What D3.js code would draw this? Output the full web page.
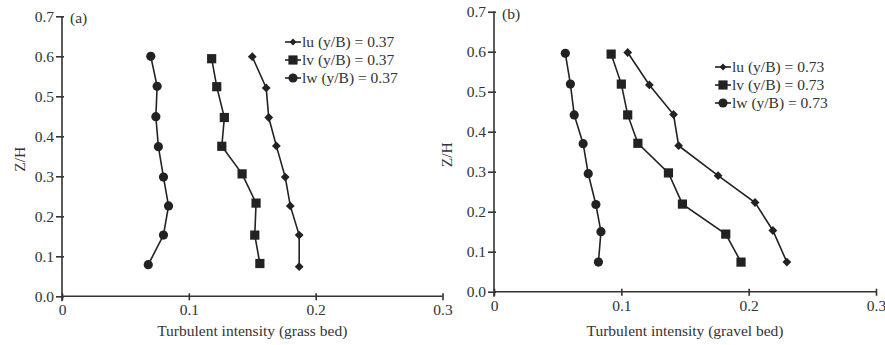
<!DOCTYPE html>
<html>
<head>
<meta charset="utf-8">
<script src="https://cdn.jsdelivr.net/npm/d3@7"></script>
<style>
  body { margin: 0; background: #fff; }
  svg text { font-family: "Liberation Serif", "Times New Roman", serif; fill: #333; }
</style>
</head>
<body>
<svg id="chart" width="885" height="345"></svg>
<script>
// Z/H levels and turbulent intensities
var zA_u = [0.599, 0.521, 0.447, 0.376, 0.298, 0.226, 0.153, 0.074];
var iA_u = [0.150, 0.161, 0.163, 0.169, 0.176, 0.180, 0.187, 0.187];
var zA_v = [0.594, 0.524, 0.447, 0.375, 0.306, 0.233, 0.153, 0.082];
var iA_v = [0.118, 0.122, 0.128, 0.126, 0.142, 0.153, 0.152, 0.156];
var zA_w = [0.600, 0.525, 0.449, 0.374, 0.298, 0.226, 0.153, 0.079];
var iA_w = [0.070, 0.075, 0.074, 0.076, 0.080, 0.084, 0.080, 0.068];

var zB_u = [0.598, 0.517, 0.443, 0.365, 0.290, 0.223, 0.153, 0.074];
var iB_u = [0.105, 0.122, 0.141, 0.145, 0.176, 0.205, 0.219, 0.230];
var zB_v = [0.594, 0.519, 0.442, 0.371, 0.297, 0.219, 0.144, 0.074];
var iB_v = [0.092, 0.100, 0.105, 0.113, 0.137, 0.148, 0.182, 0.194];
var zB_w = [0.596, 0.519, 0.442, 0.370, 0.295, 0.218, 0.150, 0.074];
var iB_w = [0.056, 0.060, 0.063, 0.070, 0.074, 0.080, 0.084, 0.082];

var xTicks = [0, 0.1, 0.2, 0.3];
var yTicks = [0, 0.1, 0.2, 0.3, 0.4, 0.5, 0.6, 0.7];
var legendA = ["lu (y/B) = 0.37", "lv (y/B) = 0.37", "lw (y/B) = 0.37"];
var legendB = ["lu (y/B) = 0.73", "lv (y/B) = 0.73", "lw (y/B) = 0.73"];
var shapes = ["diamond", "square", "circle"];

var svg = d3.select("#chart");
var ink = "#222";

function zip(xs, zs) {
  return xs.map(function(v, i) { return { x: v, z: zs[i] }; });
}

function marker(g, shape, cx, cy, s) {
  s = s || 1;
  if (shape == "circle") {
    g.append("circle").attr("cx", cx).attr("cy", cy).attr("r", 4.6 * s).attr("fill", ink);
  } else if (shape == "square") {
    var h = 4.6 * s;
    g.append("rect").attr("x", cx - h).attr("y", cy - h).attr("width", 2 * h).attr("height", 2 * h).attr("fill", ink);
  } else {
    var r = 4.4 * s;
    g.append("path")
      .attr("d", "M" + cx + "," + (cy - r) + "L" + (cx + r) + "," + cy + "L" + cx + "," + (cy + r) + "L" + (cx - r) + "," + cy + "Z")
      .attr("fill", ink);
  }
}

function panel(opt) {
  var x = d3.scaleLinear().domain([0, 0.3]).range([opt.left, opt.right]);
  var y = d3.scaleLinear().domain([0, 0.7]).range([opt.bottom, opt.top]);
  var g = svg.append("g");

  // x axis
  var xa = g.append("g")
    .attr("transform", "translate(0," + opt.bottom + ")")
    .call(d3.axisBottom(x).tickValues(xTicks).tickSize(4).tickPadding(4)
      .tickFormat(function(d) { return d == 0 ? "0" : d3.format(".1f")(d); }));
  xa.selectAll("line").attr("y1", -3).attr("y2", 4);
  xa.select(".domain").attr("d", "M" + opt.left + ",0H" + opt.right);

  // y axis
  var ya = g.append("g")
    .attr("transform", "translate(" + opt.left + ",0)")
    .call(d3.axisLeft(y).tickValues(yTicks).tickSize(6).tickPadding(2).tickFormat(d3.format(".1f")));
  ya.selectAll("line").attr("x1", 2);
  ya.select(".domain").attr("d", "M0," + opt.top + "V" + (opt.bottom + 5));

  g.selectAll(".domain, .tick line").attr("stroke", "#333").attr("stroke-width", 1.6);
  g.selectAll(".tick text").attr("font-size", 15.5).attr("fill", "#444");

  g.append("text").attr("x", opt.left + 8).attr("y", opt.top + 7).attr("font-size", 15.5).text(opt.tag);

  g.append("text")
    .attr("transform", "translate(" + opt.ylabX + "," + ((opt.top + opt.bottom) / 2 + 3) + ") rotate(-90)")
    .attr("text-anchor", "middle").attr("font-size", 15.5).text("Z/H");

  g.append("text").attr("x", (opt.left + opt.right) / 2).attr("y", 336)
    .attr("text-anchor", "middle").attr("font-size", 15.5).text(opt.xlab);

  var line = d3.line().x(function(d) { return x(d.x); }).y(function(d) { return y(d.z); });

  opt.series.forEach(function(s, k) {
    var pts = zip(s[0], s[1]);
    g.append("path").datum(pts).attr("d", line)
      .attr("fill", "none").attr("stroke", ink).attr("stroke-width", 1.6);
    pts.forEach(function(p) { marker(g, shapes[k], x(p.x), y(p.z)); });
  });

  // legend
  opt.legend.forEach(function(t, k) {
    var ly = opt.legY + k * 18;
    g.append("line").attr("x1", opt.legX).attr("x2", opt.legX + 16).attr("y1", ly).attr("y2", ly)
      .attr("stroke", ink).attr("stroke-width", 1.6);
    marker(g, shapes[k], opt.legX + 8, ly, shapes[k] == "diamond" ? 0.8 : 1);
    g.append("text").attr("x", opt.legX + 17).attr("y", ly + 5).attr("font-size", 15.5).text(t);
  });
}

panel({
  left: 62, right: 442.5, top: 16.3, bottom: 296.3, tag: "(a)", ylabX: 25,
  xlab: "Turbulent intensity (grass bed)", legX: 285, legY: 42, legend: legendA,
  series: [[iA_u, zA_u], [iA_v, zA_v], [iA_w, zA_w]]
});
panel({
  left: 494, right: 876, top: 11.7, bottom: 291.7, tag: "(b)", ylabX: 452,
  xlab: "Turbulent intensity (gravel bed)", legX: 715, legY: 67, legend: legendB,
  series: [[iB_u, zB_u], [iB_v, zB_v], [iB_w, zB_w]]
});
</script>
</body>
</html>
